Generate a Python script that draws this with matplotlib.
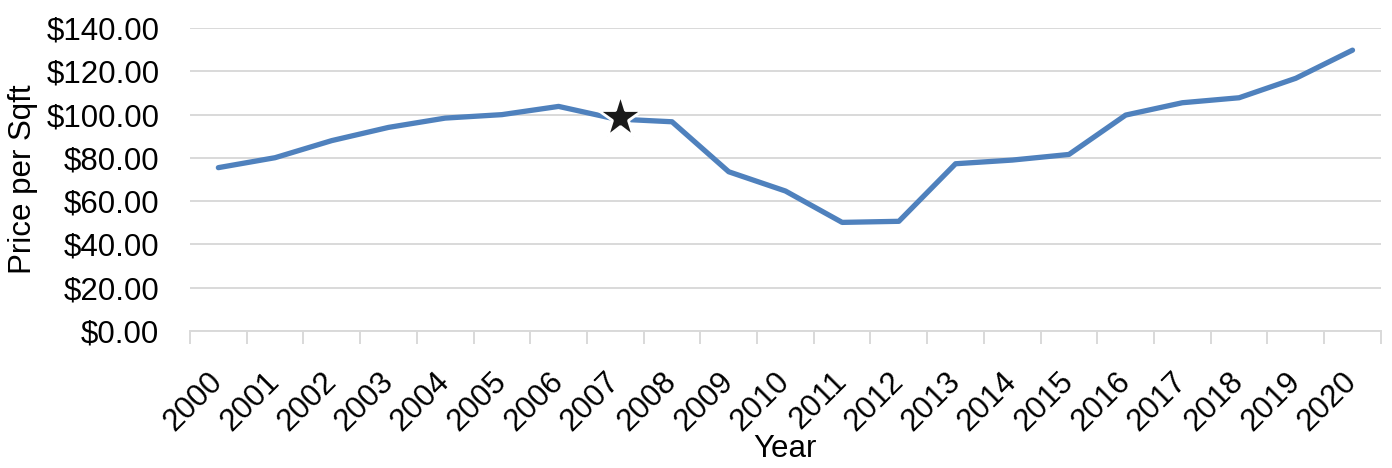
import numpy as np
import matplotlib.pyplot as plt
from matplotlib.ticker import FuncFormatter

plt.rcParams['font.family'] = ['Liberation Sans', 'DejaVu Sans']

years = [str(y) for y in range(2000, 2021)]
price = [75.5, 80.1, 88.0, 94.1, 98.4, 100.0, 103.8, 98.0, 96.7, 73.6, 64.7,
         50.2, 50.7, 77.3, 79.0, 81.6, 99.8, 105.5, 107.8, 116.8, 129.8]
star_year = "2007"
star_value = 98.8

fig = plt.figure(figsize=(13.92, 4.68), dpi=100)
ax = fig.add_axes([0.1365, 0.2927, 0.8555, 0.6473])

x = np.arange(len(years))
ax.plot(x, price, color='#4F81BD', lw=3.8, solid_capstyle='round', solid_joinstyle='round', zorder=3)
# star marker, shifted a touch right like the original
ax.plot(years.index(star_year) + 0.09, star_value, marker='*', ms=33, color='#1a1a1a',
        mec='white', mew=2, zorder=4)

ax.set_ylim(0, 140)
ax.set_yticks(np.arange(0, 141, 20))
ax.yaxis.set_major_formatter(FuncFormatter(lambda v, p: '${:.2f}'.format(v)))
ax.set_xlim(-0.5, len(years) - 0.5)
ax.set_xticks(x)
ax.set_xticklabels(years, rotation=45, ha='right', va='center', rotation_mode='anchor')
ax.set_xticks(np.arange(-0.5, len(years), 1), minor=True)

ax.grid(axis='y', color='#D9D9D9', lw=1.4, zorder=0)
for s in ['top', 'right', 'left']:
    ax.spines[s].set_visible(False)
ax.spines['bottom'].set_color('#D9D9D9')
ax.spines['bottom'].set_linewidth(1.4)
ax.spines['bottom'].set_zorder(1)

ax.tick_params(axis='y', length=0, labelsize=22.5, pad=22)
ax.tick_params(axis='x', which='major', length=0, labelsize=22.5, pad=33)
ax.tick_params(axis='x', which='minor', length=9, width=1.4, color='#D9D9D9')

ax.set_xlabel("Year", size=22.5, labelpad=-2)
ax.set_ylabel("Price per Sqft", size=22.5, labelpad=6)

plt.savefig("out.png", dpi=100)
plt.close()
